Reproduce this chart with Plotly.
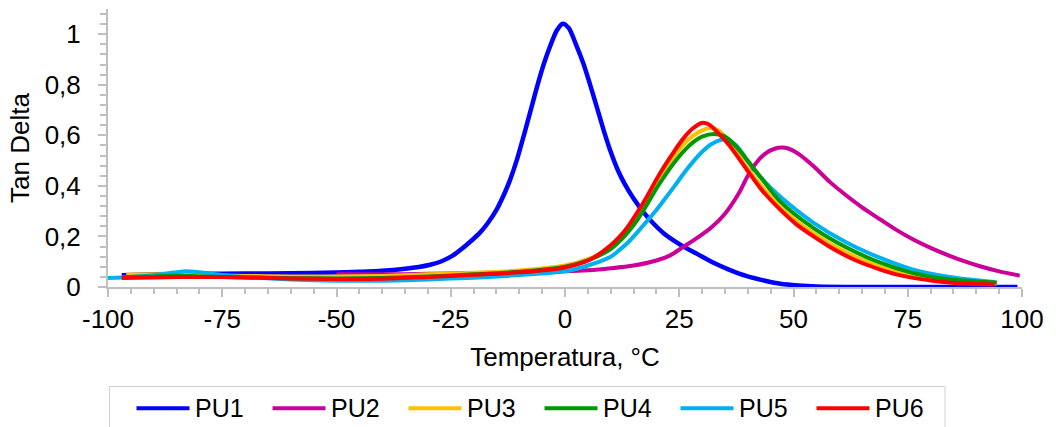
import plotly.graph_objects as go

# ---------------- data ----------------
series_names = ["PU1", "PU2", "PU3", "PU4", "PU5", "PU6"]
series_colors = ["#0000FF", "#CC0099", "#FFC000", "#009900", "#00B0F0", "#FF0000"]

x_tick_vals = [-100, -75, -50, -25, 0, 25, 50, 75, 100]
x_tick_text = ["-100", "-75", "-50", "-25", "0", "25", "50", "75", "100"]
y_tick_vals = [0, 0.2, 0.4, 0.6, 0.8, 1.0]
y_tick_text = ["0", "0,2", "0,4", "0,6", "0,8", "1"]

pu1_t = [-97, -90, -80, -70, -60, -50, -45, -40, -35, -32, -29.5, -27, -24.5, -22.3, -20.5, -18.6,
         -16.8, -15, -13.5, -12, -10.5, -9, -7.5, -6, -4.5, -3, -1.8, -0.5, 0.8, 2.5, 4, 5.5, 7,
         8.5, 10, 11.5, 13, 15, 17.2, 19.3, 21.5, 25.2, 29, 32.5, 36, 39.8, 44, 47.1, 51, 55, 65,
         80, 99]
pu1_v = [0.046, 0.050, 0.052, 0.053, 0.054, 0.057, 0.060, 0.064, 0.072, 0.079, 0.088, 0.102, 0.125,
         0.155, 0.183, 0.215, 0.255, 0.305, 0.360, 0.425, 0.505, 0.600, 0.700, 0.800, 0.890, 0.965,
         1.015, 1.042, 1.025, 0.955, 0.885, 0.800, 0.710, 0.618, 0.535, 0.465, 0.410, 0.350, 0.295,
         0.252, 0.214, 0.168, 0.130, 0.096, 0.068, 0.043, 0.024, 0.013, 0.006, 0.002, 0.0, 0.0, 0.0]

pu2_t = [-50, -40, -30, -20, -10, 0, 5, 10, 15, 20, 23, 26, 29, 32, 35, 38, 40, 42, 44, 46, 47.5,
         49, 51, 54.4, 58, 61.7, 65, 69, 72.5, 76.2, 80, 83.5, 87, 90.8, 95, 99.5]
pu2_v = [0.050, 0.050, 0.052, 0.055, 0.058, 0.062, 0.066, 0.074, 0.085, 0.105, 0.125, 0.160, 0.195,
         0.235, 0.290, 0.370, 0.440, 0.495, 0.530, 0.548, 0.552, 0.547, 0.528, 0.478, 0.415, 0.360,
         0.315, 0.267, 0.226, 0.188, 0.155, 0.128, 0.104, 0.082, 0.062, 0.045]

pu3_t = [-96, -90, -80, -70, -60, -50, -40, -30, -20, -10, 0, 5, 10, 12, 14, 16, 18, 20, 22, 24, 26,
         28, 30, 31.7, 33.5, 36, 39.8, 43, 47, 54.4, 61.7, 69, 76, 83.5, 90, 94.5]
pu3_v = [0.049, 0.050, 0.048, 0.044, 0.042, 0.042, 0.044, 0.050, 0.056, 0.065, 0.085, 0.110, 0.155,
         0.190, 0.232, 0.285, 0.345, 0.410, 0.468, 0.520, 0.565, 0.598, 0.620, 0.629, 0.620, 0.575,
         0.475, 0.400, 0.318, 0.212, 0.135, 0.080, 0.046, 0.027, 0.018, 0.014]

pu4_t = [-96, -90, -85, -80, -70, -60, -50, -40, -30, -20, -10, 0, 5, 10, 12, 14, 16, 18, 20, 22,
         24, 26, 28, 30, 32.8, 35, 37, 40, 43, 47, 54.4, 61.7, 69, 76, 83.5, 90, 94.5]
pu4_v = [0.040, 0.042, 0.045, 0.042, 0.038, 0.035, 0.034, 0.036, 0.042, 0.050, 0.060, 0.080, 0.105,
         0.150, 0.182, 0.222, 0.270, 0.328, 0.390, 0.445, 0.495, 0.538, 0.572, 0.595, 0.605, 0.595,
         0.565, 0.500, 0.430, 0.340, 0.233, 0.155, 0.096, 0.056, 0.032, 0.022, 0.018]

pu5_t = [-100, -95, -90, -85, -83, -80, -75, -70, -60, -50, -40, -30, -20, -10, 0, 5, 10, 12, 14,
         16, 18, 20, 22, 24, 26, 28, 30, 32, 34.3, 36, 38, 40, 43, 47, 54.4, 61.7, 69, 76, 83.5, 90,
         94]
pu5_v = [0.036, 0.040, 0.047, 0.058, 0.062, 0.058, 0.048, 0.040, 0.030, 0.025, 0.025, 0.030, 0.037,
         0.047, 0.062, 0.085, 0.120, 0.148, 0.180, 0.220, 0.262, 0.305, 0.352, 0.400, 0.450, 0.495,
         0.535, 0.565, 0.583, 0.578, 0.550, 0.497, 0.430, 0.359, 0.254, 0.175, 0.115, 0.070, 0.042,
         0.027, 0.020]

pu6_t = [-97, -90, -80, -70, -60, -50, -40, -30, -20, -10, -0.4, 5.5, 10, 12, 14, 16, 18, 20, 22,
         24, 26, 28, 29.9, 31.5, 33.5, 36.1, 39.8, 43, 47.1, 50.5, 54.4, 58, 61.7, 65, 69, 72.5,
         76.2, 80, 83.5, 88, 94]
pu6_v = [0.036, 0.038, 0.040, 0.038, 0.034, 0.032, 0.033, 0.040, 0.048, 0.058, 0.076, 0.109, 0.165,
         0.200, 0.245, 0.300, 0.360, 0.425, 0.485, 0.540, 0.590, 0.628, 0.649, 0.643, 0.610, 0.557,
         0.464, 0.385, 0.306, 0.250, 0.200, 0.158, 0.122, 0.095, 0.069, 0.050, 0.036, 0.026, 0.019,
         0.013, 0.010]

x_title = "Temperatura, °C"
y_title = "Tan Delta"

series_t = [pu1_t, pu2_t, pu3_t, pu4_t, pu5_t, pu6_t]
series_v = [pu1_v, pu2_v, pu3_v, pu4_v, pu5_v, pu6_v]
line_widths = [4.5, 4, 4, 4, 4, 4]
draw_order = [0, 1, 2, 4, 3, 5]

# ---------------- figure ----------------
W, H = 1056, 427
ML, MR, MT, MB = 108, 34, 9, 140
PW, PH = W - ML - MR, H - MT - MB
FONT = "Liberation Sans, Arial, sans-serif"
AXC = "#BFBFBF"

fig = go.Figure()
for i in draw_order:
    fig.add_trace(go.Scatter(
        x=series_t[i], y=series_v[i], mode="lines", name=series_names[i],
        line=dict(color=series_colors[i], width=line_widths[i], shape="spline", smoothing=0.8),
        showlegend=False, hoverinfo="skip"))

def px_x(p):
    return (p - ML) / PW

def px_y(p):
    return (H - MB - p) / PH

# custom legend (box, line samples, labels)
shapes = [dict(type="rect", xref="paper", yref="paper",
               x0=px_x(109.5), x1=px_x(945), y0=px_y(386.5), y1=px_y(440),
               line=dict(color="#D0D0D0", width=1), fillcolor="rgba(0,0,0,0)")]
annotations = []
for i, name in enumerate(series_names):
    x0 = 136.5 + 136 * i
    shapes.append(dict(type="line", xref="paper", yref="paper",
                       x0=px_x(x0), x1=px_x(x0 + 53), y0=px_y(408.3), y1=px_y(408.3),
                       line=dict(color=series_colors[i], width=4)))
    annotations.append(dict(xref="paper", yref="paper", x=px_x(x0 + 56), y=px_y(407.5),
                            xanchor="left", yanchor="middle", text=name, showarrow=False,
                            font=dict(family=FONT, size=25, color="#000000")))

fig.update_layout(
    width=W, height=H,
    margin=dict(l=ML, r=MR, t=MT, b=MB, pad=0),
    paper_bgcolor="white", plot_bgcolor="white",
    separators=",.",
    font=dict(family=FONT, size=26, color="#000000"),
    shapes=shapes, annotations=annotations,
    showlegend=False,
)
fig.update_xaxes(
    range=[-100, 100], tickmode="array", tickvals=x_tick_vals, ticktext=x_tick_text,
    showgrid=False, zeroline=False,
    showline=True, linecolor=AXC, linewidth=2, layer="below traces",
    ticks="outside", ticklen=8, tickwidth=2, tickcolor=AXC,
    minor=dict(dtick=5, tick0=0, ticks="outside", ticklen=5, tickwidth=1.5, tickcolor=AXC, showgrid=False),
    tickfont=dict(family=FONT, size=26, color="#000000"),
    title=dict(text=x_title, font=dict(family=FONT, size=26, color="#000000"), standoff=15),
)
fig.update_yaxes(
    range=[0, 1.1], tickmode="array", tickvals=y_tick_vals, ticktext=y_tick_text,
    showgrid=False, zeroline=False,
    showline=True, linecolor=AXC, linewidth=2, layer="below traces",
    ticks="outside", ticklen=8, tickwidth=2, tickcolor=AXC,
    minor=dict(dtick=0.04, tick0=0, ticks="outside", ticklen=6, tickwidth=1.5, tickcolor=AXC, showgrid=False),
    tickfont=dict(family=FONT, size=26, color="#000000"),
    ticklabelstandoff=12,
    title=dict(text=y_title, font=dict(family=FONT, size=26, color="#000000"), standoff=8),
)

fig.write_html("out.html")
